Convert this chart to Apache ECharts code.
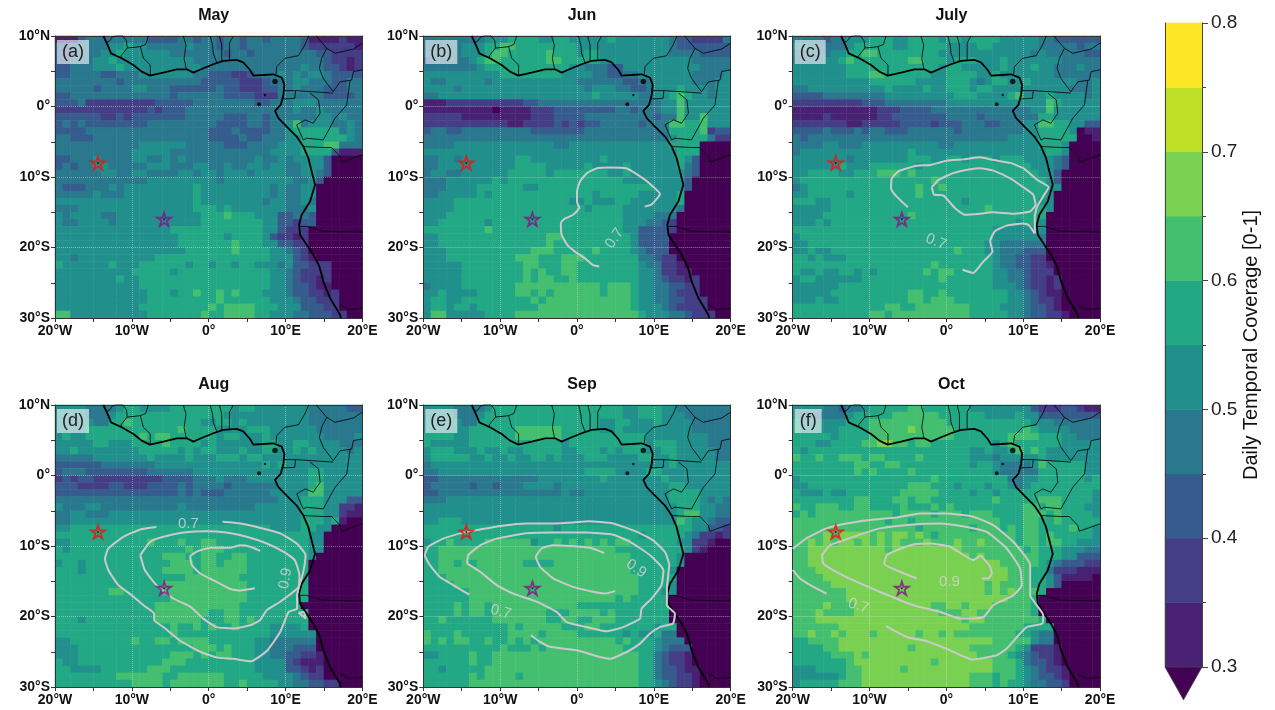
<!DOCTYPE html>
<html><head><meta charset="utf-8">
<style>html,body{margin:0;padding:0;background:#fff}#c{width:1275px;height:710px}</style>
<script src="https://cdn.jsdelivr.net/npm/echarts@6/dist/echarts.min.js"></script>
</head><body><div id="c"></div>
<script>
const monthTitles=['May','Jun','July','Aug','Sep','Oct'];
const panelTags=['(a)','(b)','(c)','(d)','(e)','(f)'];
const levelColors=['#440154','#482173','#433e85','#365c8d','#2a788e','#21908d','#22a884','#44bf70','#7ad151','#bddf26','#fde725'];
const levelEdges=[0.25,0.3,0.35,0.4,0.45,0.5,0.55,0.6,0.65,0.7,0.75,0.8];
const xTicks={'-20':'20°W','-10':'10°W','0':'0°','10':'10°E','20':'20°E'};
const yTicks={'10':'10°N','0':'0°','-10':'10°S','-20':'20°S','-30':'30°S'};

// colour-band index of each 1° cell, north to south, west to east
const may=[
'1113444444 4433334434 4344344344 4431111211','3344444556 5544444544 4344344444 4432222221','3334445565 5555544444 4434434444 4444332222','3344455655 5555555544 4444444444 4444432212',
'3344455565 5555555554 4444444444 4454433212','3344443344 4555555544 3332234445 4545543333','4444444434 4444444443 3333222344 4554443344','4444434444 5544433333 3433222334 4544433344',
'3344444444 4444434444 4433332224 4444433334','3334222222 2223333344 4444443344 4555444444','2222222222 2232333444 4444444444 4544544444','3333332232 3333333444 4433344344 4444554544',
'3434333333 3344444444 4333344344 5745554454','3333444444 4444444444 3334333344 5666666454','4433344444 4444444444 3333433444 5566666654','4444444444 4555555444 4433344445 5566677444',
'4444444444 5555544444 4444444455 5566663111','3344454444 5544545444 4444445445 4555530000','3434455444 4455544455 4454455455 4455530000','4444445544 5544445545 5455545555 4455430000',
'4444444444 4455555555 5455555555 5445300000','4333444545 5555555565 5555555545 4455000000','4444454445 5555555565 5555555545 4455000000','5555555555 5555555565 5555555455 4454000000',
'4445555555 5555555566 6565555555 4445000000','5455554455 5555555556 6676665553 3443000000','5445555455 5555555556 6666666553 3233000000','5555555555 5555566666 6666666553 2220000000',
'5555555555 5555556666 6656666532 2120000000','5555555555 5555556666 6667666553 3220000000','5555555555 5555555666 6667666655 4320000000','5545555555 5556666666 6666666655 5321000000',
'6555555655 5666666566 5665665554 5332220000','5555555555 6666656666 6666666655 4322220000','5555555565 5666666666 6666666655 4322120000','5555555555 5666666666 6666666655 4332110000',
'5555555555 5566656676 6767666555 4332212000','5555555555 5566666666 6766666655 5433222000','5555555555 5666666666 7677776665 5533322000','7755555555 5566666667 6677776655 5443332200'];
const jun=[
'4444444455 5666655665 5555655555 5543322224','4444455566 7766666666 5555555555 5543333333','4444455567 7666667666 5665555555 5544443333','3444445677 6666667766 6665555555 5555544444',
'4444444566 6666666665 5444335555 5555554444','5555555555 6666666655 5544334455 5555544445','5445555545 5555555555 4444443344 5555544455','5555455555 5555555555 5455544334 5556555455',
'4455555555 5555555555 5565555544 5567655455','1112222222 2223344444 4444444444 4557555555','1111111110 1111222333 3333344344 4557555555','2222211111 1111222333 3444444444 3447557555',
'2222222222 2112222323 2334444434 4477667555','3443344444 4444333333 3444444444 4466667233','4444444444 4444444444 4444444444 4456666422','4444555555 5555555445 5555555555 5566660000',
'5555555555 5555555555 5555555555 5556660000','4455455555 5566555555 5556555555 5556530000','4455555555 5566665555 5655556555 5556430000','4554455555 5666665666 6666556555 5555430000',
'4445555556 5666666666 6666665555 5555300000','4445555666 6665566666 6666666666 5555300000','4455555656 6666666666 6656666655 5556000000','5555666666 6666666665 5655566555 5556000000',
'5555666666 6666666666 6566665555 5554000000','5556666666 6666666666 6666665555 4440000000','5566666656 6666666666 6666665554 4320000000','6666666676 6666666666 6666665533 3320000000',
'5566666666 6666667766 6666666533 3300000000','5566666666 6666667666 6666666533 3300000000','5556666666 6666777666 6676666543 3300000000','5556666666 6677766677 7666666644 3220000000',
'5555566666 6667766677 6666666654 4221000000','5555566666 6667676677 6666666655 4221100000','5555566666 6667677667 6666666655 4322120000','4555566666 6677777777 7776777655 4433220000',
'5565555666 6677676777 7776777655 4432220000','5665566666 6666767777 7777777655 4433222000','5665665666 6666677777 7777777655 5432222000','5775555566 6677777777 7777777765 5544322200'];
const july=[
'4444344555 6665566665 6656666555 5544333333','5544444566 6665566666 5555665555 5544444344','4444455667 7666666665 5555555555 5454444433','4444556766 6666677666 5666555655 5555544444',
'5555555666 6666666665 6655555655 5655444544','5555555666 7766666655 6666556555 5555444444','5555555555 6666665555 6665456655 6555555445','4455555555 5565555655 6665665555 5555554445',
'3333444444 4455555555 5666555567 5556555545','2222222223 3344444444 5555555555 5557655555','1111111111 1222333344 4444444444 4557555555','1111211111 1223333333 4444344444 4466555555',
'2222222112 2222333323 3344433444 5577665533','3333433343 4433344444 4344444444 5566665011','4344444444 4444444444 4444444455 5566666001','4444554445 5555555554 4555555555 5566650000',
'4555555555 5555565555 5555555555 5556650000','5555555455 5555566655 6656665666 5555430000','5555556555 6666665666 6666666666 6555430000','5566665566 6777676666 6666666666 6655300000',
'5666666666 6666666676 6666666666 6665300000','4566666666 6666667667 6666666666 6665500000','5566666566 6666667666 6666666666 6665000000','6665566666 6666666666 6656666666 6655000000',
'5555566666 6666666666 6666676666 6665000000','5555666666 6666676666 6666666666 6660000000','5556566666 6666666666 6666666665 6650000000','6666666666 6666666666 6666665555 5550000000',
'5666666666 6666666666 6666665555 5540000000','5566666666 6666666666 6666655444 4440000000','5565566666 6666666666 6766655444 3330000000','6656555666 6666666666 6666665443 3220000000',
'6666666666 6666666676 6666665443 3221000000','6556556656 5666666767 7666665544 3222000000','5665555556 6666666667 6666665544 3221200000','5555556666 6666666666 6666665554 3221200000',
'5555566666 6666677667 6666666655 4321100000','5556556666 6666677677 7666666655 4322100000','6666666666 6677667777 7776666555 4332100000','6666666666 7767777777 7776666655 4332210000'];
const aug=[
'5555444456 6555566666 6665665555 5554444433','5555444566 6666666666 6655555555 5554444444','5555544667 6666666665 5665655555 5554444444','5555666666 6666667666 6555566655 5555444444',
'5655666666 6767766666 6566555655 5555544445','5555566555 6666766665 6555555665 5665555444','5565555555 5666665656 6555655665 5656555545','4444455555 5565555655 5666566555 5555555555',
'3333334444 4445555555 5555555656 5555555555','3444333333 3344444455 5555555555 5556655555','2323322222 2222333344 4544455555 5556655555','3332222332 2233334344 4434444445 5556755555',
'3333333333 3333334343 3344444455 5557755555','4444444444 4444444444 4444444445 5566655533','5444554444 4444445444 4444445555 5566655221','4455444555 5555555555 5555555555 5566655211',
'4455555555 5555555555 5555555555 5566656100','5566666666 6666666666 6666666655 5566550000','6666666666 6666666666 6666666666 6665500000','5566666666 6676667667 7666666666 6665500000',
'6566666666 6666666767 7766666666 6665500000','6666666666 6666777667 7667766666 6665000000','5665666666 6666677767 7677766666 6660000000','6665666666 6666777767 7777766666 6660000000',
'6666666666 6666666777 7777666666 6660000000','6666666666 6666777777 7777766666 6660000000','6666666776 6666777777 7777766666 6660000000','6666666666 6666677777 7777766666 6660000000',
'6666666666 6667777777 7777666666 6600000000','6666666666 6667777777 6677666666 6660000000','6665666666 6667777776 6677676666 6660000000','6666666666 6666676676 7667666655 5560000000',
'6666666666 6666676666 6666666655 5555000000','5566666666 7667767777 6666665544 4444000000','5556666666 6666666677 7676665544 4333000000','5556666666 6666677767 6776665544 3322100000',
'6556666666 6666777666 6666665555 3211100000','6655556666 6677766666 6666665555 3321200000','6666666677 7777667777 7766666555 5432200000','6666666666 7777677777 7766766665 5443322000'];
const sep=[
'5555444456 6666666666 6666665566 6554444444','5555444566 6666666666 6666665566 6555444444','5555544666 6666666666 6665566555 6555544444','5555556666 6677777766 6665565555 5555544444',
'6666556666 6677777766 6666666665 5555555444','6555556666 6666666656 6666666665 6665555444','5666555655 6556666655 6665656665 5665555544','5666665565 5655665655 5666555566 5565555544',
'4555555555 5555555555 5555555555 5565555555','4455555555 5555555555 5666655556 6555555555','3344444444 4444455555 5556555555 5655555555','3444443443 4445555455 5555555555 5566555555',
'3344444444 4444444454 4555555555 5566665555','4445555555 5555555555 5555555555 5566665454','5555555555 5555555555 5555555555 5556665544','5555555555 5555555555 5555555555 5556775544',
'5566655555 5555555555 5555555555 5557655433','6666666666 6666666566 6666666666 6666655332','6666666666 6666666666 6666666656 6666542212','5667666677 7777566767 6767677666 6665522100',
'6677777777 7777777777 7777766666 6666521000','6677777777 7777777777 7777777666 6665000000','6677676777 7776666777 7777777666 6665000000','6677777777 7777777777 7777777666 6650000000',
'6667777777 7777777777 7777777766 6660000000','6666777777 7777777777 7777777766 6650000000','6666667777 7777777777 7777777766 6550000000','6666667777 7777777777 7777767666 6600000000',
'6666767767 7777777777 6666666666 6600000000','6666767767 7777776667 7776766666 6600000000','6676666667 7777776677 6677766666 6600000000','6666666666 6767777766 6776666666 5660000000',
'7666766666 6777767777 6666665655 6440000000','7676776676 6767677777 7777767666 5444000000','6666666666 7666767777 7777776666 5433300000','5566667667 7777777777 7777777766 4322100000',
'6666667667 7777777777 7777777766 4322100000','6656666677 7777777777 7777777766 4332110000','6666667677 7767777777 7777777766 4332210000','6666667777 7777777777 7777777766 5432210000'];
const oct=[
'5555443445 6666677666 6665555555 5322233211','5444444566 6667777776 6666655556 5533333333','6555555666 7777777777 6666666666 6555444444','6555556666 7777787777 7666666666 7655554444',
'6666656666 7777777777 7666666677 7766655444','6665566667 7887767766 6666665676 6666655555','6566666666 6666666666 6665565567 6765555555','7667667776 7766667666 6665554555 5565555555',
'6666666677 6677666666 6665665444 4576666655','6666666676 7666676666 6666665444 4466666655','5666666666 6666666676 6666666644 5566666656','5566666666 6666677766 6566656654 5666666666',
'6555655666 6666777776 6665665666 6666666665','6666666677 6667767766 6666667666 6677766665','7667776677 6666766676 7666666666 7767766655','6767777777 7776777767 7767776666 7776766665',
'7777777777 7767767777 7777777666 7766766666','7777777777 7777776777 7776777676 7766667665','7777878888 7878878767 7777777776 7767666665','7787878878 7878777877 7877877776 7767766555',
'7788888888 8878888888 8877777777 6766655544','7788888888 8888888888 8887877777 7766655333','7788888888 8888888888 8888888777 7765433322','7778888888 8888888888 8888888877 7664222111',
'7777888888 8888888888 8888888877 7665311110','7777788888 8888888888 8888878777 7665300000','7777777888 8888888888 8888878787 7760000000','7777777888 8888888888 8888888877 7600000000',
'7777877788 8888888877 8878887777 7600000000','7778777788 8888888887 7788777777 7600000000','7778888888 8888888888 8878877777 7760000000','7777778888 8888888888 8887777777 6666000000',
'7787787888 7888887887 8777777776 6544000000','6677778888 8888888888 8888887777 7544000000','6666778888 8888878888 8887777776 5222100000','6666677787 8888888888 8888777765 4322100000',
'6666666788 8888888878 8888887776 4332100000','5556666778 8888788888 8888887776 5432210000','5555556778 8888888888 8887776776 5433210000','5666667778 8888888888 8887776766 5443320000'];

// coastline, borders, islands (lon, lat)
const coast=[[-13.7,10],[-13.06,8.49],[-12.71,7.54],[-11.32,6.84],[-9.8,5.89],[-8.72,4.95],[-7.64,4.38],[-5.9,4.81],[-4.16,5.28],[-2.86,5.28],[-2,4.81],[-0.69,5.42],[0.6,5.99],[1.9,6.46],[3.64,6.6],[4.5,6.27],[5.38,5.18],[5.81,4.38],[7.11,4.47],[8.4,4.57],[9.5,4.1],[9.85,3.06],[9.72,1.64],[9.37,0.22],[8.63,-0.63],[9.07,-1.66],[10.15,-2.85],[11.45,-4.26],[12.32,-5.68],[12.97,-7.33],[13.4,-9.22],[13.84,-11.1],[13.19,-13.47],[12.1,-15.36],[11.76,-16.78],[11.89,-18.19],[12.75,-19.6],[13.62,-21.03],[14.4,-22.68],[14.92,-24.8],[15.79,-27.17],[17.09,-29.53],[17.2,-30]];
const borders=[
[[-13.3,9.05],[-12.9,9.3],[-12.5,9.9],[-11.9,10.05],[-11.2,10.05],[-10.7,9.3],[-10.6,8.3],[-11.4,7.2],[-11.4,6.9]],
[[-10.6,8.3],[-9.5,8.4],[-8.9,8.5],[-8.5,6.85],[-7.6,5.9],[-7.6,4.4]],
[[-8.9,8.5],[-8.2,8.8],[-7.85,10]],
[[-2.9,5.2],[-3.2,6.8],[-2.95,8.7],[-3.3,10]],
[[1.1,6.1],[0.6,7.5],[0.5,8.7],[0.2,10]],
[[1.7,6.4],[1.7,8.7],[1.4,10]],
[[2.7,6.6],[2.7,9],[3.2,10]],
[[8.76,4.57],[8.85,5.66],[9.93,6.84],[11.67,7.2],[12.5,8.7],[13,10]],
[[14,10],[15.36,8.25],[16.44,7.55],[18.83,8.15],[20,9]],
[[15.36,8.25],[14.7,6.84],[14.4,5.42],[14.9,4],[16.2,2.1],[17.1,3.5],[18.6,3.75],[18.83,4.95],[20,5.2]],
[[9.85,2.25],[11.3,2.25],[16.2,1.9]],
[[9.5,1.07],[11.2,1.15],[11.3,2.25]],
[[13.2,1.9],[14.3,0.93],[14.5,-0.96],[13.6,-2.37],[12.55,-1.9],[11.45,-2.6],[12.3,-4.74],[12.75,-4.5],[14.9,-4.74],[16.45,-1.66],[17.96,0.22],[18.4,3.75]],
[[12.3,-5.68],[14.9,-5.82],[16,-5.82],[17.1,-7.1],[17.3,-7.9],[20,-6.86]],
[[11.9,-17],[12.75,-17],[14.9,-17.7],[20,-17.8]],
[[17.1,-28.1],[18.2,-28.8],[20,-28.6]]
];
const islands=[[8.63,3.53],[7.33,1.64],[6.55,0.32]];
const islandSizes=[5.5,2.5,4];
const redStar=[-14.4,-8];
const purpleStar=[-5.8,-16];

// contour lines of seasonal coverage (lon, lat)
const contoursJun=[
[[8.8,-14.2],[9.7,-13.9],[10.8,-12.4],[9.1,-10.6],[8.2,-9.9],[6.5,-8.8],[4.3,-8.65],[2.6,-8.75],[1.3,-9.45],[0.4,-10.6],[0,-12.05],[0,-13.5],[0.3,-14.4],[-0.5,-15.35],[-1.6,-15.9],[-2.1,-16.5],[-2,-18.2],[-1.3,-19.6],[-0.3,-20.55],[1,-21.5],[2.1,-22.5],[2.9,-22.7]]];
const contoursJuly=[
[[-5,-14.3],[-6.5,-12.75],[-7.2,-11.6],[-7.1,-10.2],[-6.25,-9.2],[-3.9,-8.4],[-2.1,-8.3],[0,-7.7],[2.2,-7.5],[4.4,-7.2],[6.1,-7.6],[8.3,-8],[10,-8.75],[11.8,-10.4],[13.3,-11.45],[12.6,-12.75],[11.8,-14.2],[11.5,-15.6],[11.5,-18],[10.7,-16.8],[10,-16.6],[7.85,-16.9],[6.3,-17.7],[5.7,-19.1],[6,-20.55],[4.8,-22],[3.5,-23.6],[2.1,-23.15]],
[[-1.9,-11.45],[-1,-10.4],[0.9,-9.45],[3.1,-8.9],[4.4,-8.75],[6.1,-9.1],[8.3,-10.2],[10,-11.45],[11.3,-12.5],[11.6,-13.95],[10.9,-14.9],[8.7,-15.2],[6.1,-15],[4.4,-15.2],[2.4,-15.35],[1.1,-14.4],[-0.4,-12.6],[-1.6,-12.5],[-1.9,-11.45]]];
const contoursAug=[
[[-6.8,-7.3],[-8.9,-7.65],[-11.1,-8.7],[-13.05,-10.35],[-13.5,-11.8],[-13.05,-13.45],[-11.75,-15.55],[-10,-17],[-8.5,-18.4],[-7.1,-19.6],[-7.1,-20.5],[-5.9,-21.5],[-3.75,-23.4],[-1.1,-25],[1,-25.8],[3.2,-26],[5.5,-26.35],[7.55,-24.9],[9.3,-22.2],[10.4,-19.35],[11.5,-18.9],[11.5,-17],[12.3,-13.7],[12.6,-11.3],[11.45,-9.65],[9.3,-8.2],[6.25,-7.3],[4.1,-6.8],[1.8,-6.55]],
[[-8.9,-11.3],[-7.6,-9.4],[-5.9,-8.7],[-3.3,-8.1],[-0.3,-7.9],[2.3,-8.1],[4.95,-8.7],[7.55,-9.65],[9.7,-10.8],[11.2,-12],[11.8,-14.15],[11.7,-15.8],[9.3,-17.9],[7.55,-19.1],[6.7,-20.5],[5.4,-21.25],[3.2,-21.7],[1,-21.5],[-0.7,-20.3],[-2.4,-18.6],[-4.6,-17.45],[-6.8,-15.55],[-8.3,-13.45],[-8.9,-11.3]],
[[6.7,-10.7],[5.4,-10.1],[4.1,-9.9],[2.8,-10.25],[0.2,-10.25],[-1.55,-10.8],[-2.4,-11.5],[-2.2,-12.7],[-1.1,-13.9],[0.6,-14.85],[2.8,-16.1],[4.1,-16.3],[6,-16]],
[[11.7,-19.45],[12.35,-19.35],[12.65,-20.3],[11.7,-19.45]]];
const contoursSep=[
[[-14,-16.9],[-16.1,-15.55],[-17.85,-14.4],[-19.15,-12.7],[-19.8,-11.3],[-19.35,-10.1],[-17.4,-8.95],[-14.8,-8.1],[-12.6,-7.65],[-10,-7.15],[-6.55,-6.8],[-3.5,-6.8],[-0.5,-6.65],[1.5,-6.5],[4.7,-6.8],[7.8,-8],[9.9,-9.2],[11.45,-10.85],[12,-12.7],[11.7,-16],[11.7,-18.4],[12.75,-19.6],[12.5,-21],[10.8,-21.5],[9.5,-22.4],[8.2,-23.85],[6.5,-25],[4.3,-26],[3,-25.75],[0,-24.8],[-3.5,-24.3],[-4.8,-23.6],[-6,-22.65]],
[[-14.3,-12.5],[-14.15,-11.3],[-12.6,-9.9],[-10.45,-8.95],[-6.55,-8.2],[-3.1,-8.1],[1.25,-8.1],[4.7,-8.4],[6.9,-9.4],[9.5,-11.3],[11.25,-13.45],[11,-15.55],[9.7,-17.45],[8.4,-18.9],[8.2,-20.3],[6,-21.5],[3.85,-22.1],[1.25,-21.5],[-1.35,-20.8],[-2.65,-19.35],[-5.25,-17.9],[-8.3,-16.75],[-10.45,-15.55],[-12.6,-13.65],[-14.3,-12.5]],
[[3.55,-11],[1.7,-10.25],[-0.9,-10],[-3.1,-9.9],[-4.6,-10.35],[-5.35,-11.55],[-4.8,-12.95],[-3.1,-14.6],[-0.5,-15.8],[2.1,-16.5],[3.65,-16.75],[4.95,-16.4]]];
const contoursOct=[
[[-15.6,-16.75],[-17.3,-15.8],[-19.05,-14.6],[-20,-13.4]],
[[-20,-10.4],[-18.2,-8.9],[-15.6,-7.5],[-13,-6.8],[-9.9,-6.3],[-6.45,-5.95],[-3.4,-5.4],[0,-5.4],[3.5,-5.85],[6.1,-7.05],[8.7,-9.4],[10.9,-12.7],[10.9,-17],[11.75,-18.4],[12.6,-19.8],[12.5,-21],[10.45,-21.5],[9.35,-22.7],[7.85,-24.55],[6.55,-25.5],[3.45,-26.1],[0,-24.55],[-2.55,-23.5],[-5.15,-22.9],[-7.85,-21.35]],
[[-16.2,-11.3],[-15.15,-9.9],[-12.1,-8.7],[-8.65,-7.5],[-4.3,-6.95],[-0.8,-6.8],[2.65,-7.3],[5.25,-8],[7.85,-10.35],[9.6,-13.2],[9.8,-15.55],[8.7,-17],[6.1,-18.4],[4.8,-20.1],[1.8,-20.3],[-0.8,-19.35],[-4.3,-18.4],[-8.65,-16.5],[-11.65,-15.1],[-14.7,-13.45],[-16,-12.5],[-16.2,-11.3]],
[[-3.85,-14.6],[-6.05,-13.65],[-8.1,-12.5],[-7.75,-11.3],[-6.45,-10.6],[-4.3,-9.8],[-2.1,-9.65],[0.5,-10.1],[3.5,-12],[4.4,-11.4],[5.7,-12.95],[5.9,-13.9],[5.45,-14.6],[4.6,-14.6]]];
// [lon, lat, text, rotation]
const labelsJun=[[4.9,-18.7,'0.7',55]];
const labelsJuly=[[-1.35,-19.2,'0.7',-22]];
const labelsAug=[[-2.65,-6.8,'0.7',0],[10,-14.6,'0.9',80]];
const labelsSep=[[-9.9,-19.35,'0.7',-15],[7.7,-13.2,'0.9',-35]];
const labelsOct=[[0.4,-15.1,'0.9',0],[-11.45,-18.5,'0.7',-18]];

const panelCells=[may,jun,july,aug,sep,oct];
const panelContours=[[],contoursJun,contoursJuly,contoursAug,contoursSep,contoursOct];
const panelLabels=[[],labelsJun,labelsJuly,labelsAug,labelsSep,labelsOct];
const colLefts=[55,423.3,792.7]; const colW=307.4;
const rowTops=[36,405]; const rowH=282;
const FONT='"Liberation Sans",Arial,sans-serif';
const STAR='path://M10,0 L12.25,6.91 L19.51,6.91 L13.63,11.18 L15.88,18.09 L10,13.82 L4.12,18.09 L6.37,11.18 L0.49,6.91 L7.75,6.91 Z';
const cats=Array.from({length:40},(_,i)=>String(i));
const join=l=>{const o=[];l.forEach(p=>{o.push(...p,[null,null]);});return o;};

const grid=[],xAxis=[],yAxis=[],series=[],title=[],heatIdx=[];
panelCells.forEach((rows,p)=>{
  const L=colLefts[p%3],T=rowTops[p<3?0:1];
  grid.push({left:L,top:T,width:colW,height:rowH});
  const vx={gridIndex:p,type:'value',min:-20,max:20,interval:10,position:'bottom',z:3,
    axisLine:{show:true,onZero:false,lineStyle:{color:'#333',width:1}},
    axisTick:{show:true,length:4,lineStyle:{color:'#333'}},
    minorTick:{show:true,splitNumber:2,length:4,lineStyle:{color:'#333'}},
    splitLine:{show:true,lineStyle:{color:'rgba(225,225,225,0.45)',type:'dotted',width:1}},
    axisLabel:{fontFamily:FONT,fontWeight:'bold',fontSize:14,color:'#111',margin:6,showMinLabel:true,showMaxLabel:true,hideOverlap:false,formatter:v=>xTicks[v]}};
  const vy={gridIndex:p,type:'value',min:-30,max:10,interval:10,position:'left',z:3,
    axisLine:{show:true,onZero:false,lineStyle:{color:'#333',width:1}},
    axisTick:{show:true,length:4,lineStyle:{color:'#333'}},
    minorTick:{show:true,splitNumber:2,length:4,lineStyle:{color:'#333'}},
    splitLine:{show:true,lineStyle:{color:'rgba(225,225,225,0.45)',type:'dotted',width:1}},
    axisLabel:{fontFamily:FONT,fontWeight:'bold',fontSize:14,color:'#111',margin:5,showMinLabel:true,showMaxLabel:true,hideOverlap:false,formatter:v=>yTicks[v]}};
  const cx={gridIndex:p,type:'category',data:cats,position:'top',z:3,axisLine:{show:true,onZero:false,lineStyle:{color:'#333',width:1}},axisTick:{show:false},axisLabel:{show:false},splitLine:{show:false}};
  const cy={gridIndex:p,type:'category',data:cats,position:'right',z:3,axisLine:{show:true,onZero:false,lineStyle:{color:'#333',width:1}},axisTick:{show:false},axisLabel:{show:false},splitLine:{show:false}};
  xAxis.push(vx,cx); yAxis.push(vy,cy);
  const xv=2*p,xc=2*p+1,yv=2*p,yc=2*p+1;
  const cells=[];
  rows.forEach((r,j)=>{const s=r.replace(/ /g,'');for(let i=0;i<40;i++){const d=+s[i];cells.push([i,39-j,(levelEdges[d]+levelEdges[d+1])/2]);}});
  heatIdx.push(series.length);
  series.push({type:'heatmap',xAxisIndex:xc,yAxisIndex:yc,data:cells,z:2,progressive:0,silent:true,itemStyle:{borderWidth:0}});
  series.push({type:'line',xAxisIndex:xv,yAxisIndex:yv,data:join(borders),symbol:'none',z:4,silent:true,lineStyle:{color:'#000',width:0.8}});
  series.push({type:'line',xAxisIndex:xv,yAxisIndex:yv,data:coast,symbol:'none',z:4,silent:true,lineStyle:{color:'#000',width:1.8}});
  series.push({type:'scatter',xAxisIndex:xv,yAxisIndex:yv,data:islands,symbol:'circle',symbolSize:(v,o)=>islandSizes[o.dataIndex],z:4,silent:true,itemStyle:{color:'#000'}});
  panelContours[p].forEach(c=>series.push({type:'line',xAxisIndex:xv,yAxisIndex:yv,data:c,symbol:'none',smooth:0.15,z:5,silent:true,lineStyle:{color:'#cacaca',width:2}}));
  if(panelLabels[p].length) series.push({type:'scatter',xAxisIndex:xv,yAxisIndex:yv,symbolSize:0,z:6,silent:true,
    data:panelLabels[p].map(l=>({value:[l[0],l[1]],label:{show:true,position:'inside',formatter:l[2],rotate:l[3],color:'#d4d4d4',fontFamily:FONT,fontSize:15}}))});
  series.push({type:'scatter',xAxisIndex:xv,yAxisIndex:yv,data:[redStar],symbol:STAR,symbolSize:14,symbolKeepAspect:true,z:7,silent:true,itemStyle:{color:'rgba(0,0,0,0)',borderColor:'#f01010',borderWidth:1.8}});
  series.push({type:'scatter',xAxisIndex:xv,yAxisIndex:yv,data:[purpleStar],symbol:STAR,symbolSize:14,symbolKeepAspect:true,z:7,silent:true,itemStyle:{color:'rgba(0,0,0,0)',borderColor:'#8a0f8a',borderWidth:1.8}});
  series.push({type:'scatter',xAxisIndex:xv,yAxisIndex:yv,data:[redStar,purpleStar],symbol:'circle',symbolSize:2,z:7,silent:true,itemStyle:{color:'#000'}});
  title.push({text:monthTitles[p],left:L+colW/2,top:T-33,textAlign:'center',textStyle:{fontFamily:FONT,fontWeight:'bold',fontSize:16,color:'#111'}});
  title.push({text:panelTags[p],left:L+2,top:T+4,padding:[3,5,3,5],backgroundColor:'rgba(255,255,255,0.6)',z:8,textStyle:{fontFamily:FONT,fontWeight:'normal',fontSize:18,color:'#222'}});
});

// colourbar
const barLevels=['0.3–0.35','0.35–0.4','0.4–0.45','0.45–0.5','0.5–0.55','0.55–0.6','0.6–0.65','0.65–0.7','0.7–0.75','0.75–0.8'];
const barTip=0.2745;
grid.push({left:1165,top:23,width:37,height:644});
xAxis.push({gridIndex:6,type:'category',data:['bar'],show:false},{gridIndex:6,type:'value',min:0,max:1,show:false});
yAxis.push({gridIndex:6,type:'value',min:0.3,max:0.8,interval:0.1,position:'right',z:3,
  axisLine:{show:true,onZero:false,lineStyle:{color:'#444'}},
  axisTick:{show:true,length:6,lineStyle:{color:'#444'}},minorTick:{show:true,splitNumber:2,length:4,lineStyle:{color:'#444'}},splitLine:{show:false},
  axisLabel:{fontFamily:FONT,fontSize:19,color:'#222',margin:9,showMinLabel:true,showMaxLabel:true,formatter:v=>v.toFixed(1)},
  name:'Daily Temporal Coverage [0-1]',nameLocation:'middle',nameRotate:90,nameGap:38,nameTextStyle:{fontFamily:FONT,fontSize:20,color:'#111'}},
  {gridIndex:6,type:'category',data:barLevels,show:true,position:'left',z:3,axisLine:{show:true,onZero:false,lineStyle:{color:'#444'}},axisTick:{show:false},axisLabel:{show:false}});
heatIdx.push(series.length);
series.push({type:'heatmap',xAxisIndex:12,yAxisIndex:13,silent:true,progressive:0,z:2,data:barLevels.map((_,i)=>[0,i,(levelEdges[i+1]+levelEdges[i+2])/2])});
series.push({type:'custom',xAxisIndex:13,yAxisIndex:12,clip:false,silent:true,z:3,data:[[0.5,barTip]],
  renderItem:(params,api)=>({type:'polygon',shape:{points:[api.coord([0,0.3]),api.coord([1,0.3]),api.coord([api.value(0),api.value(1)])]},style:{fill:levelColors[0],stroke:'#444',lineWidth:0.8}})});

const pieces=levelColors.map((c,i)=>({gte:levelEdges[i],lt:levelEdges[i+1],color:c}));
const chart=echarts.init(document.getElementById('c'),null,{renderer:'canvas'});
chart.setOption({animation:false,backgroundColor:'#fff',title,grid,xAxis,yAxis,series,tooltip:{show:false},
  visualMap:{type:'piecewise',show:false,seriesIndex:heatIdx,dimension:2,pieces}});
</script></body></html>
